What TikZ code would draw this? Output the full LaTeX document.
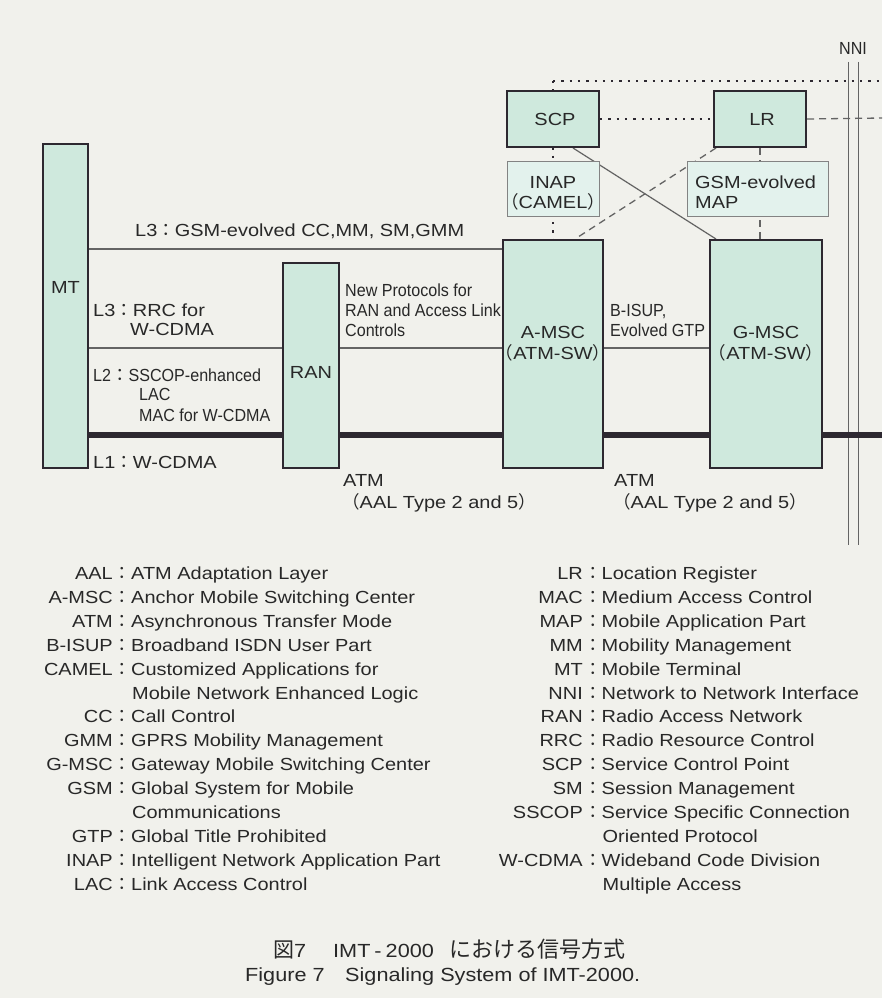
\documentclass[tikz,border=0pt]{standalone}
\usepackage{fontspec}
\setmainfont[FakeStretch=1.14]{Liberation Sans}
\newfontfamily\condf[FakeStretch=0.92]{Liberation Sans}
\newfontfamily\cjk{Noto Sans CJK JP}
\newcommand\jc{{\cjk ：}}
\newcommand\lpar{{\cjk （}}
\newcommand\rpar{{\cjk ）}}
\newcommand\fs{\fontsize{17.5}{21}\selectfont}
\definecolor{bgc}{RGB}{241,241,236}
\definecolor{boxfill}{RGB}{207,233,221}
\definecolor{lblfill}{RGB}{227,242,237}
\definecolor{inkc}{RGB}{45,40,48}
\definecolor{textc}{RGB}{40,40,40}
\definecolor{lnc}{RGB}{100,100,100}
\pgfdeclarelayer{bgl}
\pgfdeclarelayer{back}
\pgfsetlayers{bgl,back,main}
\tikzset{
  box/.style={draw=inkc, line width=2pt, fill=boxfill, inner sep=0pt},
  lbl/.style={draw=lnc!80, line width=0.9pt, fill=lblfill, inner sep=0pt},
  thinline/.style={draw=lnc, line width=1.2pt},
  thickline/.style={draw=inkc, line width=6pt},
  dotline/.style={draw=inkc, line width=2.3pt, dash pattern=on 2.3pt off 6pt},
  dashline/.style={draw=lnc, line width=1.3pt, dash pattern=on 7pt off 5pt},
  nniline/.style={draw=lnc, line width=1pt},
  tx/.style={text=textc, inner sep=0pt, font=\fs},
  cx/.style={text=textc, inner sep=0pt, font=\fs\condf},
}
\begin{document}
\begin{tikzpicture}[x=1pt,y=-1pt]
\begin{pgfonlayer}{bgl}
\path[use as bounding box, fill=bgc] (0,0) rectangle (882,998);
\end{pgfonlayer}

% ---------- boxes ----------
\node[box, minimum width=45pt, minimum height=324pt] (mt) at (65.5,306) {};
\node[box, minimum width=56pt, minimum height=205pt] (ran) at (311,365.5) {};
\node[box, minimum width=100pt, minimum height=228pt] (amsc) at (553,354) {};
\node[box, minimum width=112pt, minimum height=228pt] (gmsc) at (766,354) {};
\node[box, minimum width=92pt, minimum height=56pt] (scp) at (553,119) {};
\node[box, minimum width=92pt, minimum height=56pt] (lr) at (760,119) {};
\node[lbl, minimum width=92pt, minimum height=55pt] (inap) at (553,188.5) {};
\node[lbl, minimum width=141pt, minimum height=55pt] (map) at (757.5,188.5) {};

% ---------- box texts ----------
\node[tx, anchor=base] (mtT) at (65.5,293.5) {MT};
\node[tx, anchor=base] (ranT) at (311,378.5) {RAN};
\node[tx, anchor=base] (amscT1) at (553,338.5) {A-MSC};
\node[tx, anchor=base] (amscT2) at (553,359.5) {\lpar ATM-SW\rpar};
\node[tx, anchor=base] (gmscT1) at (766,338.5) {G-MSC};
\node[tx, anchor=base] (gmscT2) at (766,359.5) {\lpar ATM-SW\rpar};
\node[tx, anchor=base] (scpT) at (555,125.5) {SCP};
\node[tx, anchor=base] (lrT) at (762,125.5) {LR};
\node[tx, anchor=base] (inapT1) at (553,188.5) {INAP};
\node[tx, anchor=base] (inapT2) at (553,208.5) {\lpar CAMEL\rpar};
\node[tx, anchor=base west] (mapT1) at (695,188.5) {GSM-evolved};
\node[tx, anchor=base west] (mapT2) at (695,208.5) {MAP};

% ---------- helper coordinates ----------
\coordinate (yA) at (0,249);
\coordinate (yB) at (0,348);
\coordinate (yT) at (0,435);
\coordinate (topL) at (553,81);
\coordinate (topR) at (882,81);
\coordinate (lrR) at (882,118);
\coordinate (thickR) at (882,435);
\coordinate (nniAt) at (848,62);
\coordinate (nniAb) at (848,545);
\coordinate (nniBt) at (858,62);
\coordinate (nniBb) at (858,545);

% ---------- connectors (behind boxes) ----------
\begin{pgfonlayer}{back}
\draw[nniline] (nniAt) -- (nniAb);
\draw[nniline] (nniBt) -- (nniBb);
\draw[dotline] (topL) -- (topR);
\draw[dotline] (topL) -- (amsc.north);
\draw[dotline] (scp.east) -- (lr.west);
\draw[dashline] (lr.east) -- (lrR);
\draw[dashline] (lr.south) -- (lr.south |- gmsc.north);
\draw[dashline] ([xshift=3pt]lr.south west) -- ([xshift=22pt]amsc.north);
\draw[thinline] ([xshift=20pt]scp.south) -- ([xshift=7pt]gmsc.north west);
\draw[thinline] (mt.east |- yA) -- (amsc.west |- yA);
\draw[thinline] (mt.east |- yB) -- (ran.west |- yB);
\draw[thinline] (ran.east |- yB) -- (amsc.west |- yB);
\draw[thinline] (amsc.east |- yB) -- (gmsc.west |- yB);
\draw[thickline] (mt.east |- yT) -- (ran.west |- yT);
\draw[thickline] (ran.east |- yT) -- (amsc.west |- yT);
\draw[thickline] (amsc.east |- yT) -- (gmsc.west |- yT);
\draw[thickline] (gmsc.east |- yT) -- (thickR);
\end{pgfonlayer}

% ---------- link labels ----------
\node[tx, anchor=base] (nniT) at (853,54.5) {\condf NNI};
\node[tx, anchor=base west] (l3a) at (135,236.5) {L3\jc GSM-evolved CC,MM, SM,GMM};
\node[tx, anchor=base west] (l3b1) at (93,316.5) {L3\jc RRC for};
\node[tx, anchor=base west] (l3b2) at (130,335.5) {W-CDMA};
\node[cx, anchor=base west] (l2a) at (93,381) {L2\jc SSCOP-enhanced};
\node[cx, anchor=base west] (l2b) at (139,400) {LAC};
\node[cx, anchor=base west] (l2c) at (139,421) {MAC for W-CDMA};
\node[tx, anchor=base west] (l1) at (93,468.5) {L1\jc W-CDMA};
\node[cx, anchor=base west] (np1) at (345,296.5) {New Protocols for};
\node[cx, anchor=base west] (np2) at (345,316.5) {RAN and Access Link};
\node[cx, anchor=base west] (np3) at (345,336.5) {Controls};
\node[cx, anchor=base west] (bi1) at (610,316.5) {B-ISUP,};
\node[cx, anchor=base west] (bi2) at (610,336.5) {Evolved GTP};
\node[tx, anchor=base west] (atm1a) at (343,486.5) {ATM};
\node[tx, anchor=base west] (atm1b) at (342,508.5) {\lpar AAL Type 2 and 5\rpar};
\node[tx, anchor=base west] (atm2a) at (614,486.5) {ATM};
\node[tx, anchor=base west] (atm2b) at (613,508.5) {\lpar AAL Type 2 and 5\rpar};

% ---------- legend ----------
\foreach \k/\ab/\dd in {0/AAL/ATM Adaptation Layer,
  1/A-MSC/Anchor Mobile Switching Center,
  2/ATM/Asynchronous Transfer Mode,
  3/B-ISUP/Broadband ISDN User Part,
  4/CAMEL/Customized Applications for,
  6/CC/Call Control,
  7/GMM/GPRS Mobility Management,
  8/G-MSC/Gateway Mobile Switching Center,
  9/GSM/Global System for Mobile,
  11/GTP/Global Title Prohibited,
  12/INAP/Intelligent Network Application Part,
  13/LAC/Link Access Control}{
  \node[tx, anchor=base east] (la\k) at (113,{579.5+23.9*\k}) {\ab};
  \node[tx, anchor=base west] (ld\k) at (113.5,{579.5+23.9*\k}) {\jc\dd};
}
\node[tx, anchor=base west] (lc5) at (132,{579.5+23.9*5}) {Mobile Network Enhanced Logic};
\node[tx, anchor=base west] (lc10) at (132,{579.5+23.9*10}) {Communications};

\foreach \k/\ab/\dd in {0/LR/Location Register,
  1/MAC/Medium Access Control,
  2/MAP/Mobile Application Part,
  3/MM/Mobility Management,
  4/MT/Mobile Terminal,
  5/NNI/Network to Network Interface,
  6/RAN/Radio Access Network,
  7/RRC/Radio Resource Control,
  8/SCP/Service Control Point,
  9/SM/Session Management,
  10/SSCOP/Service Specific Connection,
  12/W-CDMA/Wideband Code Division}{
  \node[tx, anchor=base east] (ra\k) at (583,{579.5+23.9*\k}) {\ab};
  \node[tx, anchor=base west] (rd\k) at (584,{579.5+23.9*\k}) {\jc\dd};
}
\node[tx, anchor=base west] (rc11) at (602.5,{579.5+23.9*11}) {Oriented Protocol};
\node[tx, anchor=base west] (rc13) at (602.5,{579.5+23.9*13}) {Multiple Access};

% ---------- caption ----------
\node[tx, anchor=base west, font=\fontsize{19}{22}\selectfont] (cap1a) at (273,957) {{\cjk\fontsize{21}{22}\selectfont 図}7};
\node[tx, anchor=base west, font=\fontsize{19}{22}\selectfont] (cap1b) at (333,957) {IMT\hspace{4pt}-\hspace{4pt}2000};
\node[tx, anchor=base west, font=\fontsize{22}{24}\selectfont\cjk] (cap1c) at (449,957) {における信号方式};
\node[tx, anchor=base west, font=\fontsize{19}{22}\selectfont] (cap2a) at (245,981) {Figure 7};
\node[tx, anchor=base west, font=\fontsize{19}{22}\selectfont] (cap2b) at (345,981) {Signaling System of IMT-2000.};
\end{tikzpicture}
\end{document}
